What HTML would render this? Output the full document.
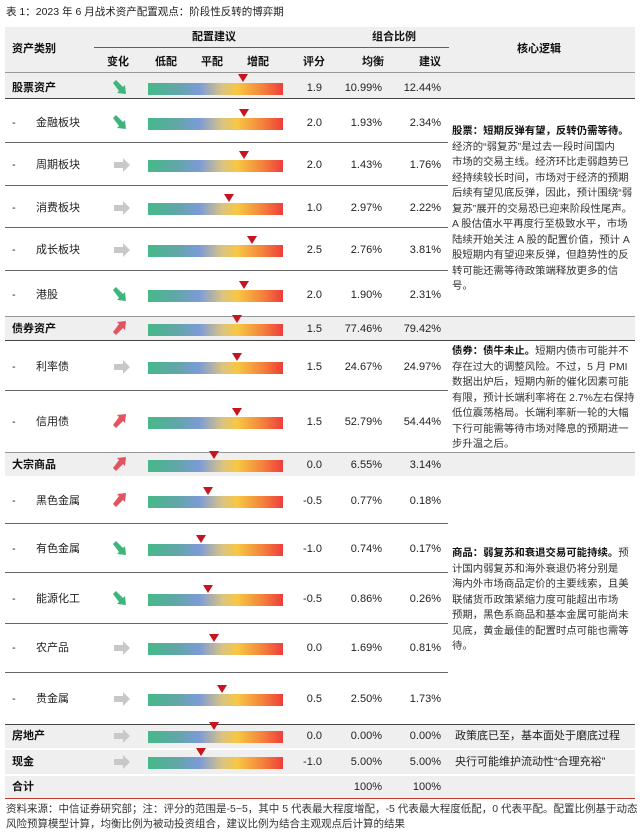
<!DOCTYPE html>
<html><head><meta charset="utf-8"><style>
*{margin:0;padding:0;box-sizing:border-box}
body{width:640px;height:832px;background:#fff;position:relative;overflow:hidden;font-family:"Liberation Sans","Noto Sans CJK SC",sans-serif;color:#222;font-size:11px}
.a{position:absolute;white-space:nowrap;line-height:14px}
.g{position:absolute;left:5px;width:630px;background:#efefef}
.ln{position:absolute;left:5px;width:443px;height:1px;background:#666}
.b{font-weight:bold;color:#111}
.bar{position:absolute;left:148px;width:135px;height:12px;background:linear-gradient(90deg,#45b98a 0%,#62a6a8 22%,#7b9bd8 38%,#d9c383 55%,#f7c844 66%,#f4863c 84%,#ef3e3a 100%)}
.m{position:absolute;width:0;height:0;border-left:5px solid transparent;border-right:5px solid transparent;border-top:8px solid #c8141e}
.r{text-align:right}
.t{position:absolute;left:452px;font-size:10.4px;line-height:15.5px;white-space:nowrap;color:#333}
</style></head><body>
<div class="a" style="left:6px;top:5px;font-size:10.5px">表 1：2023 年 6 月战术资产配置观点：阶段性反转的博弈期</div>
<div class="g" style="top:27px;height:45px"></div>
<div class="a" style="left:94px;top:47px;width:355px;height:1px;background:#c0392b"></div>
<div class="a b" style="left:12px;top:42px">资产类别</div>
<div class="a b" style="left:192px;top:30px">配置建议</div>
<div class="a b" style="left:372px;top:30px">组合比例</div>
<div class="a b" style="left:517px;top:42px">核心逻辑</div>
<div class="a b" style="left:107px;top:55px">变化</div>
<div class="a b" style="left:155px;top:55px">低配</div>
<div class="a b" style="left:201px;top:55px">平配</div>
<div class="a b" style="left:247px;top:55px">增配</div>
<div class="a b" style="left:303px;top:55px">评分</div>
<div class="a b" style="left:362px;top:55px">均衡</div>
<div class="a b" style="left:419px;top:55px">建议</div>
<div class="a" style="left:5px;top:72px;width:630px;height:1px;background:#999"></div>

<div class="g" style="top:73px;height:25px"></div>
<div class="g" style="top:317px;height:23px"></div>
<div class="g" style="top:453px;height:23px"></div>
<div class="g" style="top:725px;height:23px"></div>
<div class="g" style="top:750px;height:24px"></div>
<div class="g" style="top:776px;height:22px"></div>

<div class="a" style="left:5px;top:98px;width:630px;height:1px;background:#444"></div>
<div class="ln" style="top:142px"></div><div class="ln" style="top:185px"></div><div class="ln" style="top:227px"></div><div class="ln" style="top:270px"></div>
<div class="a" style="left:5px;top:316px;width:630px;height:1px;background:#999"></div>
<div class="a" style="left:5px;top:340px;width:630px;height:1px;background:#444"></div>
<div class="ln" style="top:390px"></div>
<div class="a" style="left:5px;top:452px;width:630px;height:1px;background:#999"></div>
<div class="ln" style="top:523px"></div><div class="ln" style="top:572px"></div><div class="ln" style="top:623px"></div><div class="ln" style="top:672px"></div>
<div class="a" style="left:5px;top:724px;width:630px;height:1px;background:#444"></div>
<div class="a" style="left:5px;top:798px;width:630px;height:1px;background:#c0392b"></div>

<svg width="0" height="0" style="position:absolute"><defs>
<g id="dn"><path d="M0 3 L3 0 L10 7 L12 5 L13 14 L4 13 L6 11 Z" fill="#3db57c"/></g>
<g id="up"><path d="M0 11 L3 14 L10 7 L12 9 L13 0 L4 1 L6 3 Z" fill="#e05560"/></g>
<g id="rt"><path d="M0 4 L9 4 L9 0 L16 7 L9 14 L9 10 L0 10 Z" fill="#c8c8c8"/></g>
</defs></svg>

<div id="rows"></div>
<script>
var rows=[
["股票资产",1,88,"dn",1.9,"10.99%","12.44%"],
["金融板块",0,123,"dn",2.0,"1.93%","2.34%"],
["周期板块",0,165,"rt",2.0,"1.43%","1.76%"],
["消费板块",0,208,"rt",1.0,"2.97%","2.22%"],
["成长板块",0,250,"rt",2.5,"2.76%","3.81%"],
["港股",0,295,"dn",2.0,"1.90%","2.31%"],
["债券资产",1,329,"up",1.5,"77.46%","79.42%"],
["利率债",0,367,"rt",1.5,"24.67%","24.97%"],
["信用债",0,422,"up",1.5,"52.79%","54.44%"],
["大宗商品",1,465,"up",0.0,"6.55%","3.14%"],
["黑色金属",0,501,"up",-0.5,"0.77%","0.18%"],
["有色金属",0,549,"dn",-1.0,"0.74%","0.17%"],
["能源化工",0,599,"dn",-0.5,"0.86%","0.26%"],
["农产品",0,648,"rt",0.0,"1.69%","0.81%"],
["贵金属",0,699,"rt",0.5,"2.50%","1.73%"],
["房地产",1,736,"rt",0.0,"0.00%","0.00%"],
["现金",1,762,"rt",-1.0,"5.00%","5.00%"]];
var h="";
rows.forEach(function(r){
 var y=r[2];
 if(r[1]) h+='<div class="a b" style="left:12px;top:'+(y-7)+'px">'+r[0]+'</div>';
 else h+='<div class="a" style="left:12px;top:'+(y-7)+'px">-</div><div class="a" style="left:36px;top:'+(y-7)+'px">'+r[0]+'</div>';
 var ay=r[3]=="rt"?y-7:y-8;
 h+='<svg class="a" style="left:'+(r[3]=="rt"?114:113)+'px;top:'+ay+'px" width="17" height="16"><use href="#'+r[3]+'"/></svg>';
 h+='<div class="bar" style="top:'+(y-5)+'px"></div>';
 var mx=214+r[4]*(r[4]>0?15:13);
 h+='<div class="m" style="left:'+(mx-5)+'px;top:'+(y-14)+'px"></div>';
 h+='<div class="a r" style="left:290px;width:32px;top:'+(y-7)+'px">'+r[4].toFixed(1)+'</div>';
 h+='<div class="a r" style="left:340px;width:42px;top:'+(y-7)+'px">'+r[5]+'</div>';
 h+='<div class="a r" style="left:395px;width:46px;top:'+(y-7)+'px">'+r[6]+'</div>';
});
document.getElementById("rows").innerHTML=h;
</script>
<div class="a b" style="left:12px;top:780px">合计</div>
<div class="a r" style="left:340px;width:42px;top:780px">100%</div>
<div class="a r" style="left:395px;width:46px;top:780px">100%</div>

<div class="t" style="top:124px"><b style="color:#111">股票：短期反弹有望，反转仍需等待。</b><br>经济的“弱复苏”是过去一段时间国内<br>市场的交易主线。经济环比走弱趋势已<br>经持续较长时间，市场对于经济的预期<br>后续有望见底反弹，因此，预计围绕“弱<br>复苏”展开的交易恐已迎来阶段性尾声。<br>A 股估值水平再度行至极致水平，市场<br>陆续开始关注 A 股的配置价值，预计 A<br>股短期内有望迎来反弹，但趋势性的反<br>转可能还需等待政策端释放更多的信<br>号。</div>
<div class="t" style="top:344px"><b style="color:#111">债券：债牛未止。</b>短期内债市可能并不<br>存在过大的调整风险。不过，5 月 PMI<br>数据出炉后，短期内新的催化因素可能<br>有限，预计长端利率将在 2.7%左右保持<br>低位震荡格局。长端利率新一轮的大幅<br>下行可能需等待市场对降息的预期进一<br>步升温之后。</div>
<div class="t" style="top:546px"><b style="color:#111">商品：弱复苏和衰退交易可能持续。</b>预<br>计国内弱复苏和海外衰退仍将分别是<br>海内外市场商品定价的主要线索，且美<br>联储货币政策紧缩力度可能超出市场<br>预期，黑色系商品和基本金属可能尚未<br>见底，黄金最佳的配置时点可能也需等<br>待。</div>
<div class="a" style="left:455px;top:729px">政策底已至，基本面处于磨底过程</div>
<div class="a" style="left:455px;top:755px">央行可能维护流动性“合理充裕”</div>

<div class="a" style="left:6px;top:802px;font-size:10.5px;color:#333">资料来源：中信证券研究部；注：评分的范围是-5~5，其中 5 代表最大程度增配，-5 代表最大程度低配，0 代表平配。配置比例基于动态</div>
<div class="a" style="left:6px;top:817px;font-size:10.5px;color:#333">风险预算模型计算，均衡比例为被动投资组合，建议比例为结合主观观点后计算的结果</div>
</body></html>
